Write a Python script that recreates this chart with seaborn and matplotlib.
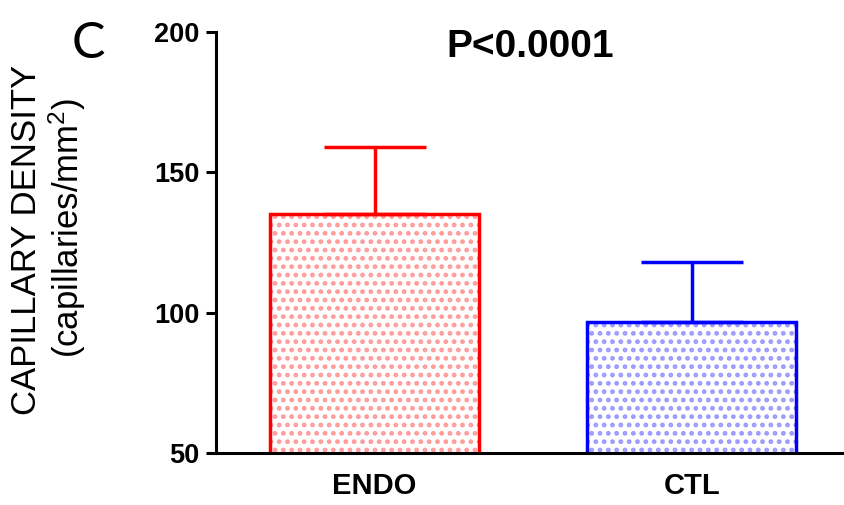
import matplotlib
matplotlib.use("Agg")
import matplotlib.pyplot as plt
import seaborn as sns
import pandas as pd

# capillary density, mean and upper SD
groups = ["ENDO", "CTL"]
means = [135, 96.5]
sd = [24, 21.5]
line_colors = ["#ff0000", "#0000ff"]
dot_colors = ["#ff9a9a", "#9a9aff"]
y_ticks = [50, 100, 150, 200]

df = pd.DataFrame({"group": groups, "density": means})

sns.set_style("ticks")
plt.rcParams["font.family"] = ["Liberation Sans", "DejaVu Sans"]
plt.rcParams["mathtext.fontset"] = "custom"
plt.rcParams["mathtext.rm"] = "Liberation Sans"
plt.rcParams["mathtext.default"] = "regular"
plt.rcParams["hatch.linewidth"] = 2.2
for k in ["text.color", "axes.labelcolor", "axes.edgecolor", "xtick.color", "ytick.color"]:
    plt.rcParams[k] = "black"

fig = plt.figure(figsize=(8.44, 5.05), dpi=100)
ax = fig.add_axes([216 / 844, 52 / 505, 628 / 844, 421 / 505])

# dotted fill
sns.barplot(data=df, x="group", y="density", hue="group", palette=dot_colors,
            width=0.66, linewidth=0, errorbar=None, legend=False, ax=ax)
for patch, c in zip(ax.patches, dot_colors):
    patch.set_facecolor("white")
    patch.set_edgecolor(c)
    patch.set_hatch("..")

# upper-only error bars
for i, g in enumerate(groups):
    ax.errorbar(i, means[i], yerr=[[0], [sd[i]]], color=line_colors[i],
                lw=2.5, capsize=37, capthick=2.5, zorder=1)

# outlines on top
sns.barplot(data=df, x="group", y="density", hue="group", palette=line_colors,
            width=0.66, fill=False, linewidth=2.5, errorbar=None, legend=False, ax=ax)

ax.set_xlim(-0.5, 1.48)
ax.set_ylim(50, 200)
ax.set_yticks(y_ticks)
ax.set_xlabel("")
ax.set_ylabel("")
sns.despine(ax=ax)
for s in ["left", "bottom"]:
    ax.spines[s].set_linewidth(2.2)
ax.tick_params(axis="y", length=7, width=2.2, labelsize=19.5, pad=5)
ax.tick_params(axis="x", length=0, labelsize=21, pad=14)
for lbl in ax.get_xticklabels() + ax.get_yticklabels():
    lbl.set_fontweight("bold")

ax.text(0.5, 0.964, "P<0.0001", transform=ax.transAxes, ha="center", va="center",
        fontsize=28, fontweight="bold")

fig.text(27 / 844, 1 - 240 / 505, "CAPILLARY DENSITY", rotation=90,
         ha="center", va="center", fontsize=25)
fig.text(67 / 844, 1 - 228 / 505, "(capillaries/mm$^2$)", rotation=90,
         ha="center", va="center", fontsize=25)
fig.text(88 / 844, 1 - 44 / 505, "C", ha="center", va="center", fontsize=36,
         family=["Lato", "DejaVu Sans"])

fig.savefig("out.png", dpi=100)
